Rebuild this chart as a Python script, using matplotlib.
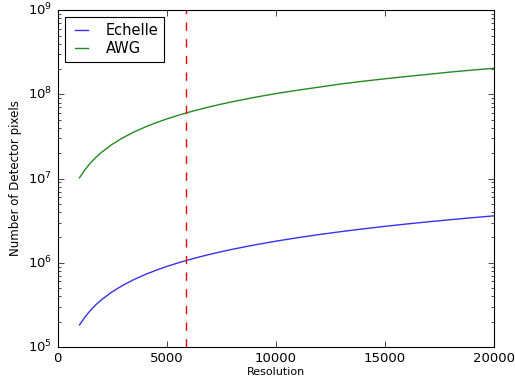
import matplotlib
matplotlib.use("Agg")
import matplotlib.pyplot as plt

plt.style.use("classic")

resolution = [1000, 1250, 1500, 1750, 2000, 2500, 3000, 3500, 4000, 4500, 5000, 5500, 6000, 6500,
              7000, 7500, 8000, 9000, 10000, 11000, 12000, 13000, 14000, 15000, 16000, 17000,
              18000, 19000, 20000]
echelle = [1.82e5, 2.26e5, 2.71e5, 3.16e5, 3.61e5, 4.51e5, 5.41e5, 6.31e5, 7.21e5, 8.11e5,
           9.01e5, 9.91e5, 1.08e6, 1.17e6, 1.26e6, 1.35e6, 1.44e6, 1.62e6, 1.80e6, 1.98e6,
           2.16e6, 2.34e6, 2.52e6, 2.70e6, 2.88e6, 3.06e6, 3.24e6, 3.42e6, 3.60e6]
awg = [1.02e7, 1.27e7, 1.53e7, 1.78e7, 2.04e7, 2.55e7, 3.06e7, 3.57e7, 4.08e7, 4.59e7,
       5.10e7, 5.61e7, 6.12e7, 6.63e7, 7.14e7, 7.65e7, 8.16e7, 9.18e7, 1.02e8, 1.12e8,
       1.22e8, 1.33e8, 1.43e8, 1.53e8, 1.63e8, 1.73e8, 1.84e8, 1.94e8, 2.04e8]
cut_resolution = 5900

fig = plt.figure(figsize=(5.15, 3.77), dpi=100, facecolor="white")
ax = fig.add_axes([0.112, 0.08, 0.847, 0.893])
ax.plot(resolution, echelle, color="#3333ee", lw=1, label="Echelle")
ax.plot(resolution, awg, color="#228b22", lw=1, label="AWG")
ax.axvline(cut_resolution, color="r", ls="--", lw=1)
ax.set_yscale("log")
ax.set_xlim(0, 20000)
ax.set_ylim(1e5, 1e9)
ax.set_xticks([0, 5000, 10000, 15000, 20000])
ax.tick_params(labelsize=9.5)
ax.set_xlabel("Resolution", fontsize=8, labelpad=1)
ax.set_ylabel("Number of Detector pixels", fontsize=8.5, labelpad=4)
leg = ax.legend(loc="upper left", fontsize=10.5, handlelength=1.5, handletextpad=0.9,
                borderpad=0.4, labelspacing=0.2)
leg.get_frame().set_linewidth(0.8)
for s in ax.spines.values():
    s.set_linewidth(0.8)
fig.savefig("out.png", dpi=100, facecolor="white")
